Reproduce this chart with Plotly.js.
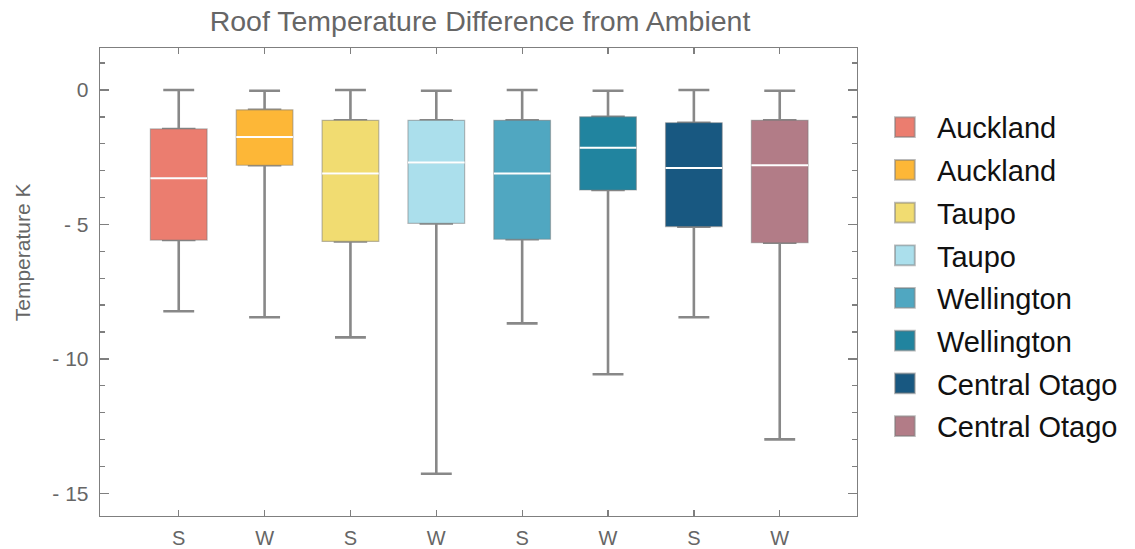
<!DOCTYPE html>
<html>
<head>
<meta charset="utf-8">
<script src="https://cdn.plot.ly/plotly-3.0.1.min.js"></script>
<style>html,body{margin:0;padding:0;background:#fff;}#chart{width:1135px;height:549px;}</style>
</head>
<body>
<div id="chart"></div>
<script>
// Data
const names = ["Auckland","Auckland","Taupo","Taupo","Wellington","Wellington","Central Otago","Central Otago"];
const seasons = ["S","W","S","W","S","W","S","W"];
const positions = [0,1,2,3,4,5,6,7];
const upperWhisker = [0.00,-0.03,0.00,-0.03,0.00,-0.03,0.00,-0.03];
const q3Values = [-1.45,-0.74,-1.13,-1.13,-1.13,-1.00,-1.22,-1.13];
const medians = [-3.28,-1.75,-3.11,-2.70,-3.11,-2.15,-2.90,-2.80];
const q1Values = [-5.58,-2.80,-5.63,-4.96,-5.55,-3.72,-5.08,-5.68];
const lowerWhisker = [-8.23,-8.45,-9.20,-14.27,-8.68,-10.57,-8.45,-12.99];
const colors = ["#EB7D6F","#FDB737","#F1DC71","#ABDFEC","#50A7C1","#21849F","#185881","#B27C87"];
const yTickVals = [0,-5,-10,-15];
const yTickText = ["0","- 5","- 10","- 15"];
const yMinorVals = [1,-1,-2,-3,-4,-6,-7,-8,-9,-11,-12,-13,-14];

const FONT = "Liberation Sans, Arial, sans-serif";
const GREY = "#7f7f7f";
const traces = [];

// layer 1: whiskers (grey) - narrow box hidden under coloured box
for (let i = 0; i < names.length; i++) {
  traces.push({
    type: "box", x: [positions[i]],
    q1: [q1Values[i]], median: [medians[i]], q3: [q3Values[i]],
    lowerfence: [lowerWhisker[i]], upperfence: [upperWhisker[i]],
    width: 0.36, whiskerwidth: 1,
    line: {color: "#888888", width: 2.6},
    fillcolor: "#888888",
    showlegend: false, hoverinfo: "skip"
  });
}
// layer 2: coloured boxes
for (let i = 0; i < names.length; i++) {
  traces.push({
    type: "box", x: [positions[i]], name: names[i], legendgroup: "g" + i,
    q1: [q1Values[i]], median: [medians[i]], q3: [q3Values[i]],
    lowerfence: [q1Values[i]], upperfence: [q3Values[i]],
    width: 0.66, whiskerwidth: 0,
    line: {color: "rgba(120,120,120,0.5)", width: 1.2},
    fillcolor: colors[i],
    showlegend: true
  });
}
// layer 3: white median lines
for (let i = 0; i < names.length; i++) {
  traces.push({
    type: "box", x: [positions[i]],
    q1: [medians[i]], median: [medians[i]], q3: [medians[i]],
    lowerfence: [medians[i]], upperfence: [medians[i]],
    width: 0.66, whiskerwidth: 0,
    line: {color: "#ffffff", width: 2},
    fillcolor: "rgba(0,0,0,0)",
    showlegend: false, hoverinfo: "skip"
  });
}

const layout = {
  width: 1135, height: 549,
  margin: {l: 100, r: 276, t: 48, b: 33},
  paper_bgcolor: "#fff", plot_bgcolor: "#fff",
  boxmode: "overlay",
  title: {text: "Roof Temperature Difference from Ambient", x: 0.4229, xanchor: "center", y: 0.962, yanchor: "middle",
          font: {family: FONT, size: 28.5, color: "#666666"}},
  xaxis: {
    range: [-0.917, 7.90], tickmode: "array", tickvals: positions, ticktext: seasons,
    showline: true, linecolor: GREY, linewidth: 1.3, mirror: "allticks",
    ticks: "inside", ticklen: 6, tickcolor: GREY, tickwidth: 1.3,
    showgrid: false, zeroline: false, ticklabelstandoff: 4,
    tickfont: {family: FONT, size: 20, color: "#666666"}
  },
  yaxis: {
    range: [-15.84, 1.56], tickmode: "array", tickvals: yTickVals, ticktext: yTickText,
    showline: true, linecolor: GREY, linewidth: 1.3, mirror: "allticks",
    ticks: "inside", ticklen: 9, tickcolor: GREY, tickwidth: 1.3,
    minor: {tickmode: "array", tickvals: yMinorVals, ticks: "inside", ticklen: 5, tickcolor: GREY, tickwidth: 1.3, showgrid: false},
    showgrid: false, zeroline: false, ticklabelstandoff: 6,
    tickfont: {family: FONT, size: 21, color: "#666666"}
  },
  annotations: [{
    text: "Temperature K", xref: "paper", yref: "paper", x: -0.1028, y: 0.564,
    xanchor: "center", yanchor: "middle", textangle: -90, showarrow: false,
    font: {family: FONT, size: 21, color: "#666666"}
  }],
  legend: {x: 1.021, xanchor: "left", y: 0.885, yanchor: "top",
           font: {family: FONT, size: 29, color: "#111111"},
           itemwidth: 54, tracegroupgap: 2, bgcolor: "rgba(0,0,0,0)"},
  showlegend: true
};

Plotly.newPlot("chart", traces, layout, {displayModeBar: false, staticPlot: true}).then(function (gd) {
  // enlarge legend swatches to match the reference square size (keep Plotly's own translate)
  gd.querySelectorAll(".legend .legendpoints path").forEach(function (p) {
    const t = p.getAttribute("transform") || "";
    p.setAttribute("transform", t + " scale(1.65)");
    p.style.strokeWidth = "1.2px";
  });
});
</script>
</body>
</html>
